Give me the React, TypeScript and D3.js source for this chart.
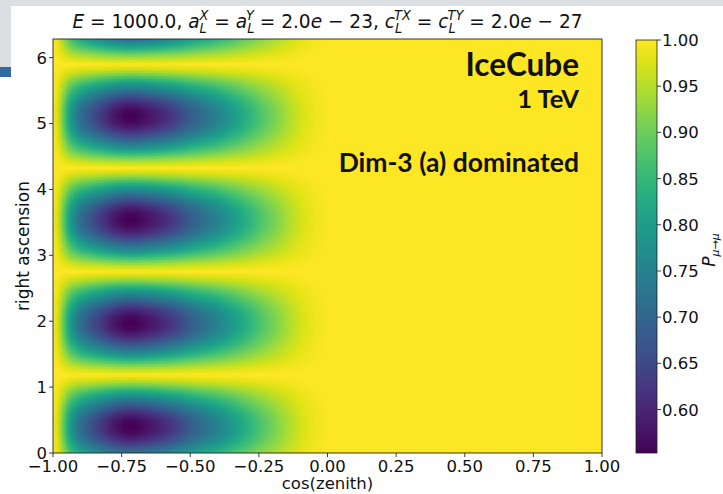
import React, { useEffect, useRef } from "react";
import * as d3 from "d3";

const W = 723;
const H = 494;
const plot = { left: 53, right: 602, top: 39, bottom: 453 };
const cbar = { left: 636, right: 657, top: 40, bottom: 453 };

// cos(zenith) sample points and the survival deficit 1 - P at the band centres
const cosZenith = [
  -1.0, -0.98, -0.96, -0.94, -0.92, -0.9, -0.86, -0.82, -0.78, -0.74, -0.72,
  -0.7, -0.66, -0.62, -0.58, -0.54, -0.5, -0.45, -0.4, -0.35, -0.3, -0.25,
  -0.2, -0.15, -0.1, -0.05, 0.0, 0.05, 1.0,
];
const deficit = [
  0.0, 0.04, 0.12, 0.2, 0.25, 0.29, 0.34, 0.38, 0.42, 0.443, 0.447, 0.445,
  0.43, 0.41, 0.385, 0.355, 0.32, 0.285, 0.25, 0.21, 0.17, 0.13, 0.095, 0.06,
  0.03, 0.012, 0.003, 0.0, 0.0,
];

// right-ascension centres of the suppression bands (rad)
const bandCentres = [0.4, 1.97, 3.54, 5.11, 6.68];
// relative band strength against distance from the band centre (rad)
const bandOffset = [0, 0.1, 0.2, 0.3, 0.4, 0.5, 0.6, 0.7, 0.785];
const bandShape = [1, 0.98, 0.9, 0.77, 0.62, 0.46, 0.27, 0.1, 0];

const xTicks = [-1.0, -0.75, -0.5, -0.25, 0.0, 0.25, 0.5, 0.75, 1.0];
const yTicks = [0, 1, 2, 3, 4, 5, 6];
const cTicks = [0.6, 0.65, 0.7, 0.75, 0.8, 0.85, 0.9, 0.95, 1.0];
const pRange = [0.553, 1.0];
const raMax = 2 * Math.PI;

const x = d3.scaleLinear().domain([-1, 1]).range([plot.left, plot.right]);
const y = d3.scaleLinear().domain([0, raMax]).range([plot.bottom, plot.top]);
const cy = d3.scaleLinear().domain(pRange).range([cbar.bottom, cbar.top]);
const color = d3.scaleSequential(d3.interpolateViridis).domain(pRange);
const deficitAt = d3.scaleLinear().domain(cosZenith).range(deficit).clamp(true);
const shapeAt = d3.scaleLinear().domain(bandOffset).range(bandShape).clamp(true);

function survival(cz: number, ra: number) {
  const dist = d3.min(bandCentres, (c) => Math.abs(ra - c)) as number;
  return 1 - deficitAt(cz) * shapeAt(dist);
}

const fmt = (v: number) => d3.format(".2f")(v).replace("-", "\u2212");
const tickFont = "DejaVu Sans, sans-serif";

export default function App() {
  const heatRef = useRef<SVGGElement>(null);

  useEffect(() => {
    const g = d3.select(heatRef.current);
    const cell = 2;
    const cells: { px: number; py: number; v: number }[] = [];
    for (let py = plot.top; py < plot.bottom; py += cell) {
      for (let px = plot.left; px < plot.right; px += cell) {
        const cz = x.invert(px + cell / 2);
        const ra = y.invert(py + cell / 2);
        cells.push({ px, py, v: survival(cz, ra) });
      }
    }
    g.selectAll("rect")
      .data(cells)
      .join("rect")
      .attr("x", (d) => d.px)
      .attr("y", (d) => d.py)
      .attr("width", (d) => Math.min(cell, plot.right - d.px) + 0.3)
      .attr("height", (d) => Math.min(cell, plot.bottom - d.py) + 0.3)
      .attr("fill", (d) => color(d.v));
  }, []);

  const stops = d3.range(0, 1.0001, 0.05);

  return (
    <svg
      width={W}
      height={H}
      style={{ position: "absolute", left: 0, top: 0, background: "#fff" }}
    >
      <defs>
        <linearGradient id="cbarGrad" x1="0" y1="1" x2="0" y2="0">
          {stops.map((t) => (
            <stop
              key={t}
              offset={t}
              stopColor={color(pRange[0] + t * (pRange[1] - pRange[0]))}
            />
          ))}
        </linearGradient>
        <clipPath id="plotClip">
          <rect
            x={plot.left}
            y={plot.top}
            width={plot.right - plot.left}
            height={plot.bottom - plot.top}
          />
        </clipPath>
      </defs>

      {/* page frame */}
      <rect x={0} y={0} width={W} height={H} fill="#ffffff" />
      <rect x={0} y={0} width={W} height={6} fill="#dcdfe2" />
      <rect x={0} y={0} width={11} height={67} fill="#dcdfe2" />
      <rect x={0} y={67} width={11} height={10} fill="#2f6aa5" />

      {/* heatmap */}
      <g ref={heatRef} clipPath="url(#plotClip)" shapeRendering="crispEdges" />
      <rect
        x={plot.left}
        y={plot.top}
        width={plot.right - plot.left}
        height={plot.bottom - plot.top}
        fill="none"
        stroke="#222"
        strokeWidth={0.9}
      />

      {/* x axis */}
      {xTicks.map((t) => (
        <g key={t}>
          <line x1={x(t)} x2={x(t)} y1={plot.bottom} y2={plot.bottom + 4} stroke="#222" strokeWidth={0.9} />
          <text x={x(t)} y={472} textAnchor="middle" fontFamily={tickFont} fontSize={16.5} fill="#111">
            {fmt(t)}
          </text>
        </g>
      ))}
      <text x={(plot.left + plot.right) / 2} y={489} textAnchor="middle" fontFamily={tickFont} fontSize={16.5} fill="#111">
        cos(zenith)
      </text>

      {/* y axis */}
      {yTicks.map((t) => (
        <g key={t}>
          <line x1={plot.left - 4} x2={plot.left} y1={y(t)} y2={y(t)} stroke="#222" strokeWidth={0.9} />
          <text x={47} y={y(t)} dy="0.36em" textAnchor="end" fontFamily={tickFont} fontSize={16.5} fill="#111">
            {t}
          </text>
        </g>
      ))}
      <text
        transform={`translate(29,${(plot.top + plot.bottom) / 2}) rotate(-90)`}
        textAnchor="middle"
        fontFamily={tickFont}
        fontSize={17}
        fill="#111"
      >
        right ascension
      </text>

      {/* title */}
      <text
        x={(plot.left + plot.right) / 2}
        y={28}
        textAnchor="middle"
        fontFamily={tickFont}
        fontSize={20}
        fill="#111"
        textLength={510}
        lengthAdjust="spacingAndGlyphs"
        style={{ whiteSpace: "pre" }}
      >
        <tspan fontStyle="italic">E</tspan>
        <tspan>{" = 1000.0, "}</tspan>
        <tspan fontStyle="italic">a</tspan>
        <tspan fontStyle="italic" fontSize={14} dy={5}>L</tspan>
        <tspan fontStyle="italic" fontSize={14} dx={-7.8} dy={-13}>X</tspan>
        <tspan dy={8}>{" = "}</tspan>
        <tspan fontStyle="italic">a</tspan>
        <tspan fontStyle="italic" fontSize={14} dy={5}>L</tspan>
        <tspan fontStyle="italic" fontSize={14} dx={-7.8} dy={-13}>Y</tspan>
        <tspan dy={8}>{" = 2.0"}</tspan>
        <tspan fontStyle="italic">e</tspan>
        <tspan>{" \u2212 23, "}</tspan>
        <tspan fontStyle="italic">c</tspan>
        <tspan fontStyle="italic" fontSize={14} dy={5}>L</tspan>
        <tspan fontStyle="italic" fontSize={14} dx={-7.8} dy={-13}>TX</tspan>
        <tspan dy={8}>{" = "}</tspan>
        <tspan fontStyle="italic">c</tspan>
        <tspan fontStyle="italic" fontSize={14} dy={5}>L</tspan>
        <tspan fontStyle="italic" fontSize={14} dx={-7.8} dy={-13}>TY</tspan>
        <tspan dy={8}>{" = 2.0"}</tspan>
        <tspan fontStyle="italic">e</tspan>
        <tspan>{" \u2212 27"}</tspan>
      </text>

      {/* annotations */}
      <g fontFamily="Lato, sans-serif" fontWeight={700} fill="#111" textAnchor="end">
        <text x={579} y={76} fontSize={31.5}>IceCube</text>
        <text x={579} y={108} fontSize={25.5}>1 TeV</text>
        <text x={579} y={172} fontSize={26.5}>Dim-3 (a) dominated</text>
      </g>

      {/* colour bar */}
      <rect
        x={cbar.left}
        y={cbar.top}
        width={cbar.right - cbar.left}
        height={cbar.bottom - cbar.top}
        fill="url(#cbarGrad)"
        stroke="#222"
        strokeWidth={0.8}
      />
      {cTicks.map((t) => (
        <g key={t}>
          <line x1={cbar.right} x2={cbar.right + 4} y1={cy(t)} y2={cy(t)} stroke="#222" strokeWidth={0.9} />
          <text x={662} y={cy(t)} dy="0.36em" fontFamily={tickFont} fontSize={16.5} fill="#111">
            {fmt(t)}
          </text>
        </g>
      ))}
      <text
        transform={`translate(715,250) rotate(-90)`}
        textAnchor="middle"
        fontFamily={tickFont}
        fontSize={17}
        fill="#111"
      >
        <tspan fontStyle="italic">P</tspan>
        <tspan fontStyle="italic" fontSize={11} dy={3.5}>{"\u03bc\u2192\u03bc"}</tspan>
      </text>
    </svg>
  );
}
